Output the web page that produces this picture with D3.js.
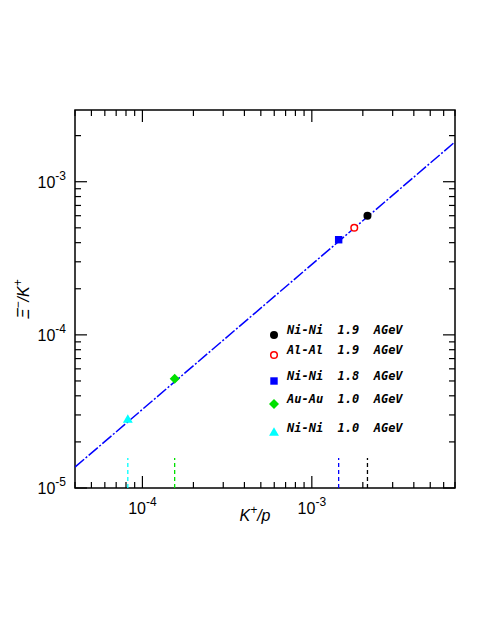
<!DOCTYPE html>
<html>
<head>
<style>
  body { margin: 0; background: white; font-family: "Liberation Sans", Arial, sans-serif; }
  .leg { font-family: "DejaVu Sans Mono", monospace; font-style: italic; font-weight: bold; font-size: 12px; }
</style>
</head>
<body>
<div id="chart"></div>
<script src="https://d3js.org/d3.v7.min.js"></script>
<script>
var labels = ["Ni-Ni  1.9  AGeV", "Al-Al  1.9  AGeV", "Ni-Ni  1.8  AGeV", "Au-Au  1.0  AGeV", "Ni-Ni  1.0  AGeV"];
var colors = ["black", "red", "blue", "#00e000", "cyan"];
var symbols = ["circle", "ring", "square", "diamond", "triangle"];
var kp = [2.13e-3, 1.78e-3, 1.44e-3, 1.55e-4, 8.2e-5];
var xik = [6.0e-4, 5.0e-4, 4.18e-4, 5.16e-5, 2.78e-5];
var hasMarker = [true, false, true, true, true];
var legendY = [335, 355, 381, 404, 433];
var fitX = [4e-5, 7e-3];
var fitY = [1.37e-5, 1.82e-3];

var margin = {left: 75, top: 110, right: 33, bottom: 144};
var W = 488, H = 632;
var w = W - margin.left - margin.right, h = H - margin.top - margin.bottom;

var svg = d3.select("#chart").append("svg").attr("width", W).attr("height", H);
var g = svg.append("g").attr("transform", "translate(" + margin.left + "," + margin.top + ")");

var x = d3.scaleLog().domain([4e-5, 7e-3]).range([0, w]);
var y = d3.scaleLog().domain([1e-5, 2.94e-3]).range([h, 0]);

g.append("defs").append("clipPath").attr("id", "clip")
  .append("rect").attr("width", w).attr("height", h);

g.append("rect").attr("width", w).attr("height", h)
  .attr("fill", "none").attr("stroke", "black").attr("stroke-width", 1.5);

function isMajor(v) { return Math.abs(Math.log10(v) - Math.round(Math.log10(v))) < 1e-6; }

function powLabel(t, v) {
  t.append("tspan").text("10");
  t.append("tspan").attr("dy", -8).attr("font-size", 12).text("-" + (-Math.round(Math.log10(v))));
}

x.ticks().forEach(function(v) {
  var L = isMajor(v) ? 12 : 6, px = x(v);
  g.append("line").attr("x1", px).attr("x2", px).attr("y1", h).attr("y2", h - L).attr("stroke", "black").attr("stroke-width", 1.2);
  g.append("line").attr("x1", px).attr("x2", px).attr("y1", 0).attr("y2", L).attr("stroke", "black").attr("stroke-width", 1.2);
  if (isMajor(v)) powLabel(g.append("text").attr("x", px).attr("y", h + 26).attr("text-anchor", "middle").attr("font-size", 16), v);
});
y.ticks().forEach(function(v) {
  var L = isMajor(v) ? 12 : 6, py = y(v);
  g.append("line").attr("x1", 0).attr("x2", L).attr("y1", py).attr("y2", py).attr("stroke", "black").attr("stroke-width", 1.2);
  g.append("line").attr("x1", w).attr("x2", w - L).attr("y1", py).attr("y2", py).attr("stroke", "black").attr("stroke-width", 1.2);
  if (isMajor(v)) powLabel(g.append("text").attr("x", -9).attr("y", py + 6).attr("text-anchor", "end").attr("font-size", 16), v);
});

// fit line
g.append("line").attr("clip-path", "url(#clip)")
  .attr("x1", x(fitX[0])).attr("y1", y(fitY[0])).attr("x2", x(fitX[1])).attr("y2", y(fitY[1]))
  .attr("stroke", "blue").attr("stroke-width", 1.5).attr("stroke-dasharray", "12,2,2,2");

// dashed markers at bottom
kp.forEach(function(v, i) {
  if (!hasMarker[i]) return;
  g.append("line").attr("x1", x(v)).attr("x2", x(v)).attr("y1", h).attr("y2", h - 30)
    .attr("stroke", colors[i]).attr("stroke-width", 1.3).attr("stroke-dasharray", "4,3");
});

function sym(sel, type, color, cx, cy) {
  if (type === "circle") sel.append("circle").attr("cx", cx).attr("cy", cy).attr("r", 4).attr("fill", color);
  else if (type === "ring") sel.append("circle").attr("cx", cx).attr("cy", cy).attr("r", 3.3).attr("fill", "white").attr("stroke", color).attr("stroke-width", 1.5);
  else if (type === "diamond") sel.append("path").attr("d", "M0,-5L5,0L0,5L-5,0Z").attr("transform", "translate(" + cx + "," + cy + ")").attr("fill", color);
  else {
    var s = type === "square" ? d3.symbolSquare : d3.symbolTriangle;
    sel.append("path").attr("d", d3.symbol().type(s).size(type === "square" ? 55 : 42)()).attr("transform", "translate(" + cx + "," + cy + ")").attr("fill", color);
  }
}

kp.forEach(function(v, i) { sym(g, symbols[i], colors[i], x(v), y(xik[i])); });

labels.forEach(function(l, i) {
  sym(svg, symbols[i], colors[i], 274, legendY[i]);
  svg.append("text").attr("class", "leg").attr("x", 287).attr("y", legendY[i] - 1).attr("xml:space", "preserve").text(l);
});

var xt = svg.append("text").attr("x", 255).attr("y", 521).attr("text-anchor", "middle").attr("font-size", 16).attr("font-style", "italic");
xt.append("tspan").text("K");
xt.append("tspan").attr("dy", -7).attr("font-size", 12).text("+");
xt.append("tspan").attr("dy", 7).text("/p");

var yt = svg.append("text").attr("transform", "translate(29,299) rotate(-90)").attr("text-anchor", "middle").attr("font-size", 16).attr("font-style", "italic");
yt.append("tspan").text("\u039E");
yt.append("tspan").attr("dy", -7).attr("font-size", 12).text("\u2212");
yt.append("tspan").attr("dy", 7).text("/K");
yt.append("tspan").attr("dy", -7).attr("font-size", 12).text("+");
</script>
</body>
</html>
